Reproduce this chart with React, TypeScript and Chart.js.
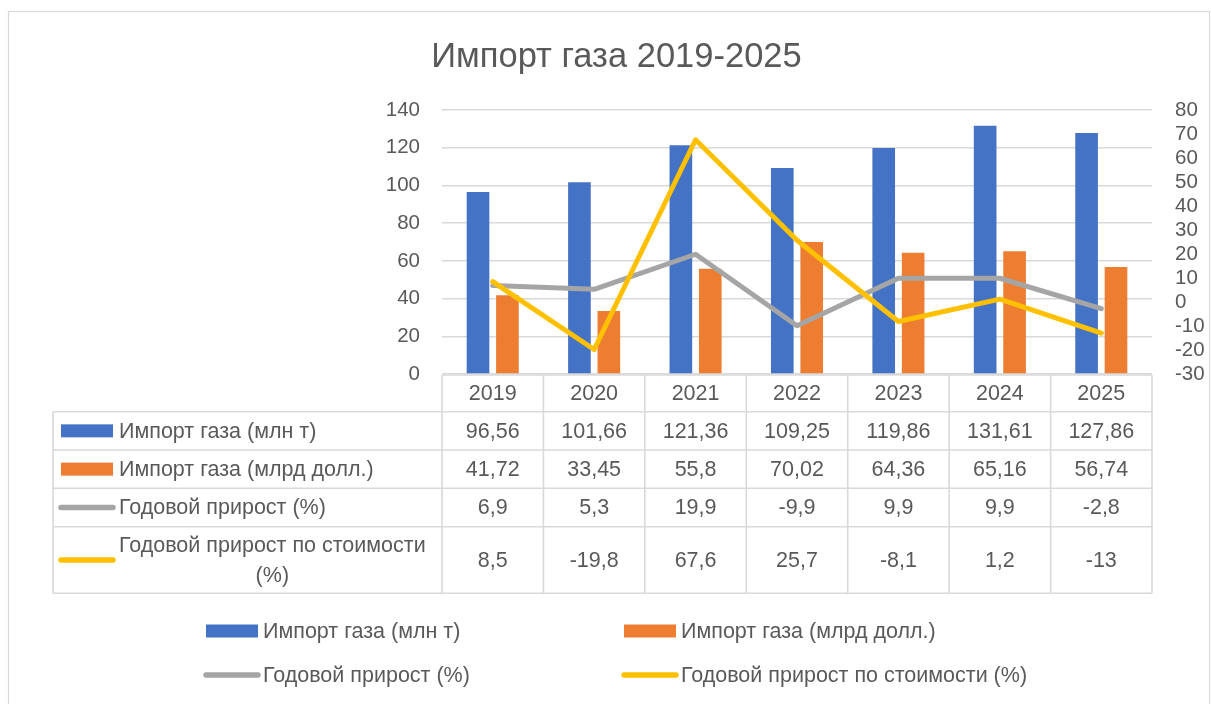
import React, { useEffect, useRef } from "react";
import { Chart, registerables } from "chart.js";

Chart.register(...registerables);

const TITLE = "Импорт газа 2019-2025";
const years = ["2019", "2020", "2021", "2022", "2023", "2024", "2025"];
const seriesNames = [
  "Импорт газа (млн т)",
  "Импорт газа (млрд долл.)",
  "Годовой прирост (%)",
  "Годовой прирост по стоимости (%)",
];
const importVolume = [96.56, 101.66, 121.36, 109.25, 119.86, 131.61, 127.86];
const importValue = [41.72, 33.45, 55.8, 70.02, 64.36, 65.16, 56.74];
const growthVolume = [6.9, 5.3, 19.9, -9.9, 9.9, 9.9, -2.8];
const growthValue = [8.5, -19.8, 67.6, 25.7, -8.1, 1.2, -13];
const leftAxisTicks = [0, 20, 40, 60, 80, 100, 120, 140];
const rightAxisTicks = [-30, -20, -10, 0, 10, 20, 30, 40, 50, 60, 70, 80];

const FONT = '"Liberation Sans", Arial, sans-serif';
const TEXT = "#595959";
const GRID = "#D9D9D9";
const COLORS = ["#4472C4", "#ED7D31", "#A5A5A5", "#FFC000"];
const KINDS = ["bar", "bar", "line", "line"];

const fmt = (v: number) => String(v).replace(".", ",");

function drawKey(ctx: CanvasRenderingContext2D, kind: string, color: string, x: number, cy: number) {
  if (kind === "bar") {
    ctx.fillStyle = color;
    ctx.fillRect(x, cy - 6.5, 52, 13);
  } else {
    ctx.strokeStyle = color;
    ctx.lineWidth = 5.5;
    ctx.lineCap = "round";
    ctx.beginPath();
    ctx.moveTo(x, cy);
    ctx.lineTo(x + 52, cy);
    ctx.stroke();
  }
}

const tablePlugin = {
  id: "excelTable",
  afterDraw(chart: any) {
    const ctx: CanvasRenderingContext2D = chart.ctx;
    const { left, right, bottom } = chart.chartArea;
    const n = years.length;
    const colW = (right - left) / n;
    const tableLeft = 53;
    const ys = [bottom + 1, bottom + 37.7, bottom + 76, bottom + 114.3, bottom + 152.7, bottom + 219.3];
    ctx.save();
    // outer chart border
    ctx.strokeStyle = GRID;
    ctx.lineWidth = 1.2;
    ctx.strokeRect(8.5, 11.5, 1201, 700);

    // table grid
    ctx.lineWidth = 1.6;
    ctx.strokeStyle = GRID;
    ctx.beginPath();
    ctx.moveTo(left, ys[0]);
    ctx.lineTo(right, ys[0]);
    for (let r = 1; r < ys.length; r++) {
      ctx.moveTo(tableLeft, ys[r]);
      ctx.lineTo(right, ys[r]);
    }
    ctx.moveTo(tableLeft, ys[1]);
    ctx.lineTo(tableLeft, ys[5]);
    for (let k = 0; k <= n; k++) {
      const x = left + k * colW;
      ctx.moveTo(x, ys[0]);
      ctx.lineTo(x, ys[5]);
    }
    ctx.stroke();

    // header years
    ctx.fillStyle = TEXT;
    ctx.font = `21.5px ${FONT}`;
    ctx.textAlign = "center";
    ctx.textBaseline = "middle";
    years.forEach((y, i) => {
      const cx = chart.scales.x.getPixelForValue(i);
      ctx.fillText(y, cx, (ys[0] + ys[1]) / 2 + 1);
    });

    const rows = [importVolume, importValue, growthVolume, growthValue];
    rows.forEach((vals, r) => {
      const cy = (ys[r + 1] + ys[r + 2]) / 2 + 1;
      ctx.fillStyle = TEXT;
      ctx.textAlign = "center";
      vals.forEach((v, i) => {
        const cx = chart.scales.x.getPixelForValue(i);
        ctx.fillText(fmt(v), cx, cy);
      });
      // row header
      drawKey(ctx, KINDS[r], COLORS[r], 61, cy - 1);
      ctx.fillStyle = TEXT;
      ctx.textAlign = "left";
      if (r === 3) {
        const l1 = "Годовой прирост по стоимости";
        const l2 = "(%)";
        const w = ctx.measureText(l1).width;
        ctx.fillText(l1, 119, ys[4] + 19);
        ctx.textAlign = "center";
        ctx.fillText(l2, 119 + w / 2, ys[4] + 49);
      } else {
        ctx.fillText(seriesNames[r], 119, cy);
      }
    });

    // bottom legend
    const legendPos = [
      [206, 631],
      [624, 631],
      [206, 675],
      [624, 675],
    ];
    ctx.textAlign = "left";
    seriesNames.forEach((name, i) => {
      const [x, cy] = legendPos[i];
      drawKey(ctx, KINDS[i], COLORS[i], x, cy);
      ctx.fillStyle = TEXT;
      ctx.fillText(name, x + 57, cy + 1);
    });
    ctx.restore();
  },
};

export default function App() {
  const ref = useRef<HTMLCanvasElement | null>(null);
  useEffect(() => {
    if (!ref.current) return;
    const chart = new Chart(ref.current, {
      type: "bar",
      data: {
        labels: years,
        datasets: [
          {
            type: "bar",
            label: seriesNames[0],
            data: importVolume,
            backgroundColor: COLORS[0],
            yAxisID: "y",
            order: 2,
            categoryPercentage: 0.58,
            barPercentage: 0.77,
          },
          {
            type: "bar",
            label: seriesNames[1],
            data: importValue,
            backgroundColor: COLORS[1],
            yAxisID: "y",
            order: 2,
            categoryPercentage: 0.58,
            barPercentage: 0.77,
          },
          {
            type: "line",
            label: seriesNames[2],
            data: growthVolume,
            borderColor: COLORS[2],
            backgroundColor: COLORS[2],
            borderWidth: 5,
            pointRadius: 0,
            tension: 0,
            borderCapStyle: "round",
            borderJoinStyle: "round",
            yAxisID: "y1",
            order: 1,
          },
          {
            type: "line",
            label: seriesNames[3],
            data: growthValue,
            borderColor: COLORS[3],
            backgroundColor: COLORS[3],
            borderWidth: 5,
            pointRadius: 0,
            tension: 0,
            borderCapStyle: "round",
            borderJoinStyle: "round",
            yAxisID: "y1",
            order: 0,
          },
        ],
      } as any,
      options: {
        responsive: false,
        animation: false,
        layout: { padding: { top: 0, left: 22, right: 0, bottom: 330 } },
        plugins: {
          legend: { display: false },
          tooltip: { enabled: false },
          title: {
            display: true,
            text: TITLE,
            color: TEXT,
            font: { family: FONT, size: 34.5, weight: "normal", lineHeight: 1.2 },
            padding: { top: 37, bottom: 31.6 },
          },
        },
        scales: {
          x: { display: false },
          y: {
            position: "left",
            min: leftAxisTicks[0],
            max: leftAxisTicks[leftAxisTicks.length - 1],
            ticks: {
              stepSize: leftAxisTicks[1] - leftAxisTicks[0],
              color: TEXT,
              font: { family: FONT, size: 20.5 },
              padding: 22,
              autoSkip: false,
              callback: (v: any) => String(v),
            },
            grid: { color: GRID, lineWidth: 1.4, drawTicks: false },
            border: { display: false },
            afterFit: (s: any) => {
              s.width = 420;
            },
          },
          y1: {
            position: "right",
            min: rightAxisTicks[0],
            max: rightAxisTicks[rightAxisTicks.length - 1],
            ticks: {
              stepSize: rightAxisTicks[1] - rightAxisTicks[0],
              color: TEXT,
              font: { family: FONT, size: 20.5 },
              padding: 23,
              autoSkip: false,
              callback: (v: any) => String(v),
            },
            grid: { display: false, drawTicks: false },
            border: { display: false },
            afterFit: (s: any) => {
              s.width = 59;
            },
          },
        },
      } as any,
      plugins: [tablePlugin],
    });
    return () => chart.destroy();
  }, []);
  return (
    <div style={{ position: "absolute", left: 0, top: 0, width: 1211, height: 704, background: "#fff" }}>
      <canvas ref={ref} width={1211} height={704} />
    </div>
  );
}
